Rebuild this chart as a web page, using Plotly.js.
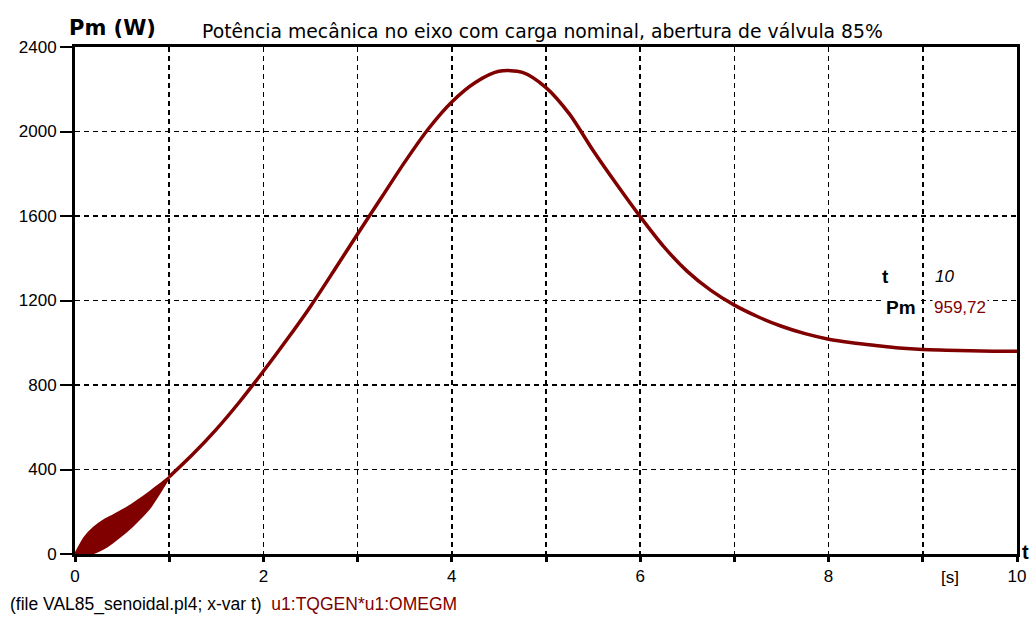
<!DOCTYPE html>
<html>
<head>
<meta charset="utf-8">
<script src="https://cdn.plot.ly/plotly-3.0.1.min.js"></script>
<style>html,body{margin:0;padding:0;background:#fff;}#chart{width:1036px;height:617px;}</style>
</head>
<body>
<div id="chart"></div>
<script>
// Initial oscillating band (envelope)
const tBand = [0, 0.1, 0.2, 0.3, 0.4, 0.5, 0.6, 0.7, 0.8, 0.9, 1.0];
const pmUpper = [0, 78, 125, 158, 182, 206, 233, 263, 296, 330, 366];
const pmLower = [0, 0, 5, 25, 55, 90, 128, 172, 222, 290, 362];

// Main curve
const tMain = [1, 1.25, 1.5, 1.75, 2, 2.25, 2.5, 2.75, 3, 3.25, 3.5, 3.75, 4, 4.25, 4.5, 4.75, 5, 5.25, 5.5, 5.75, 6, 6.25, 6.5, 6.75, 7, 7.25, 7.5, 7.75, 8, 8.25, 8.5, 8.75, 9, 9.25, 9.5, 9.75, 10];
const pmMain = [365, 472, 590, 722, 865, 1015, 1172, 1342, 1515, 1685, 1855, 2012, 2140, 2232, 2285, 2280, 2208, 2082, 1910, 1750, 1597, 1455, 1338, 1248, 1178, 1123, 1078, 1043, 1017, 1000, 987, 975, 968, 965, 962, 960, 959.72];

const xTicks = [0, 1, 2, 3, 4, 5, 6, 7, 8, 9, 10];
const xTickText = ['0', '', '2', '', '4', '', '6', '', '8', '', '10'];
const yTicks = [0, 400, 800, 1200, 1600, 2000, 2400];

const titleText = 'Potência mecânica no eixo com carga nominal, abertura de válvula 85%';
const cursorT = '10';
const cursorPm = '959,72';

const red = '#800000';

const traces = [
  {x: tBand, y: pmLower, mode: 'lines', line: {color: red, width: 2, shape: 'spline', smoothing: 0.5}, hoverinfo: 'skip'},
  {x: tBand, y: pmUpper, mode: 'lines', fill: 'tonexty', fillcolor: red, line: {color: red, width: 2, shape: 'spline', smoothing: 0.5}, hoverinfo: 'skip'},
  {x: tMain, y: pmMain, mode: 'lines', line: {color: red, width: 3.5, shape: 'spline', smoothing: 0.8}}
];

const layout = {
  width: 1036, height: 617,
  margin: {l: 74.5, r: 19, t: 47, b: 62.5},
  paper_bgcolor: '#fff', plot_bgcolor: '#fff',
  showlegend: false,
  xaxis: {
    range: [0, 10], tickvals: xTicks, ticktext: xTickText,
    showline: true, mirror: true, linecolor: '#000', linewidth: 3,
    ticks: 'outside', ticklen: 5, tickwidth: 3, tickcolor: '#000',
    showgrid: true, gridcolor: '#000', gridwidth: 1.5, griddash: '5px,4px',
    zeroline: false,
    tickfont: {family: 'Liberation Sans, Arial, sans-serif', size: 17, color: '#000'}
  },
  yaxis: {
    range: [0, 2400], tickvals: yTicks,
    showline: true, mirror: true, linecolor: '#000', linewidth: 3,
    ticks: 'outside', ticklen: 12, tickwidth: 2, tickcolor: '#000',
    showgrid: true, gridcolor: '#000', gridwidth: 1.5, griddash: '5px,4px',
    zeroline: false,
    tickfont: {family: 'Liberation Sans, Arial, sans-serif', size: 17, color: '#000'}
  },
  annotations: [
    {text: '<b>Pm (W)</b>', xref: 'paper', yref: 'paper', x: -0.009, y: 1.0375, xanchor: 'left', yanchor: 'middle', showarrow: false,
     font: {family: 'DejaVu Sans, sans-serif', size: 21, color: '#000'}},
    {text: titleText, xref: 'paper', yref: 'paper', x: 0.1332, y: 1.03, xanchor: 'left', yanchor: 'middle', showarrow: false,
     font: {family: 'DejaVu Sans, sans-serif', size: 18.8, color: '#000'}},
    {text: '<b>t</b>', xref: 'paper', yref: 'paper', x: 1.0085, y: 0.003, xanchor: 'center', yanchor: 'middle', showarrow: false,
     font: {family: 'Liberation Sans, Arial, sans-serif', size: 20, color: '#000'}},
    {text: '[s]', xref: 'paper', yref: 'paper', x: 0.9289, y: -0.046, xanchor: 'center', yanchor: 'middle', showarrow: false,
     font: {family: 'Liberation Sans, Arial, sans-serif', size: 17, color: '#000'}},
    {text: '(file VAL85_senoidal.pl4; x-var t)  <span style="color:#800000">u1:TQGEN*u1:OMEGM</span>', xref: 'paper', yref: 'paper',
     x: -0.0716, y: -0.0995, xanchor: 'left', yanchor: 'middle', showarrow: false,
     font: {family: 'Liberation Sans, Arial, sans-serif', size: 17.5, color: '#000'}},
    {text: '<b>t</b>', xref: 'paper', yref: 'paper', x: 0.860, y: 0.5468, xanchor: 'center', yanchor: 'middle', showarrow: false,
     bgcolor: '#fff', font: {family: 'Liberation Sans, Arial, sans-serif', size: 19, color: '#000'}},
    {text: '<i>' + cursorT + '</i>', xref: 'paper', yref: 'paper', x: 0.9109, y: 0.5468, xanchor: 'left', yanchor: 'middle', showarrow: false,
     bgcolor: '#fff', font: {family: 'Liberation Sans, Arial, sans-serif', size: 17, color: '#000'}},
    {text: '<b>Pm</b>', xref: 'paper', yref: 'paper', x: 0.895, y: 0.4857, xanchor: 'right', yanchor: 'middle', showarrow: false,
     bgcolor: '#fff', font: {family: 'Liberation Sans, Arial, sans-serif', size: 19, color: '#000'}},
    {text: cursorPm, xref: 'paper', yref: 'paper', x: 0.9098, y: 0.4857, xanchor: 'left', yanchor: 'middle', showarrow: false,
     bgcolor: '#fff', font: {family: 'Liberation Sans, Arial, sans-serif', size: 17, color: red}}
  ]
};

Plotly.newPlot('chart', traces, layout, {staticPlot: true, displayModeBar: false});
</script>
</body>
</html>
